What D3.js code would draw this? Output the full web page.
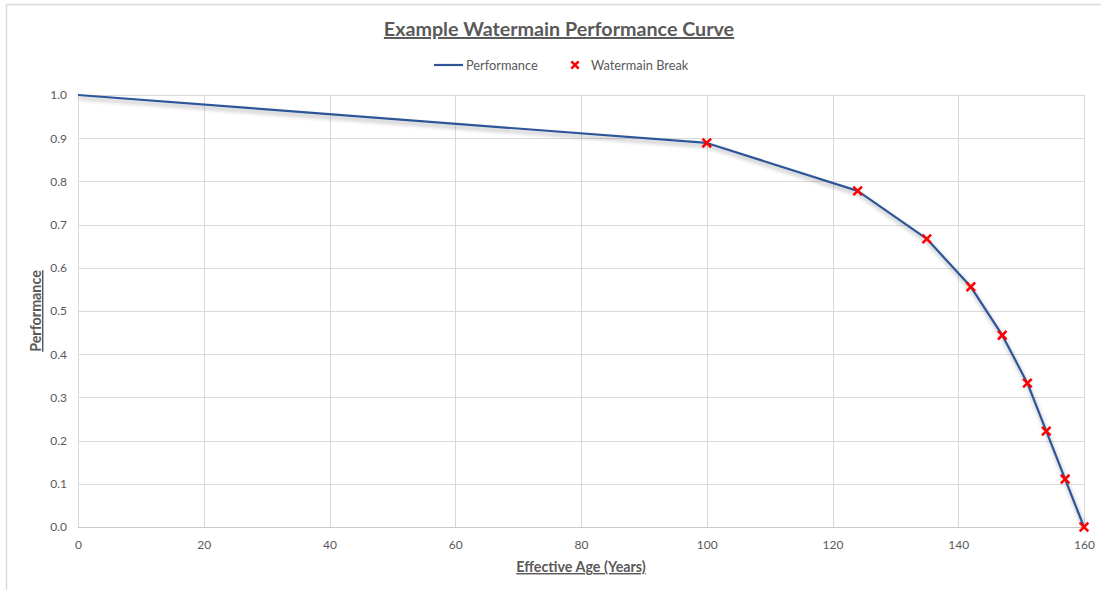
<!DOCTYPE html>
<html>
<head>
<meta charset="utf-8">
<script src="https://cdn.jsdelivr.net/npm/d3@7"></script>
<style>
  html, body { margin: 0; padding: 0; background: #fff; }
  svg { display: block; }
  text { font-family: Lato, "Open Sans", sans-serif; }
</style>
</head>
<body>
<svg id="chart" width="1101" height="590"></svg>
<script>
// Effective age (years) and the performance at each point of the curve
const ages = [0, 100, 124, 135, 142, 147, 151, 154, 157, 160];
const performance = [1.0, 0.889, 0.778, 0.667, 0.556, 0.444, 0.333, 0.222, 0.111, 0.0];
// Points where a watermain break is recorded
const breakAges = [100, 124, 135, 142, 147, 151, 154, 157, 160];
const breakPerf = [0.889, 0.778, 0.667, 0.556, 0.444, 0.333, 0.222, 0.111, 0.0];
const xTicks = [0, 20, 40, 60, 80, 100, 120, 140, 160];
const yTicks = [0, 0.1, 0.2, 0.3, 0.4, 0.5, 0.6, 0.7, 0.8, 0.9, 1.0];

const svg = d3.select("#chart");
const grid = "#d9d9d9", textCol = "#595959";

// outer chart frame
svg.append("line").attr("x1", 6.5).attr("x2", 1101).attr("y1", 4.5).attr("y2", 4.5)
  .attr("stroke", grid).attr("stroke-width", 1.5);
svg.append("line").attr("x1", 6.5).attr("x2", 6.5).attr("y1", 4.5).attr("y2", 590)
  .attr("stroke", grid).attr("stroke-width", 1.5);

const x = d3.scaleLinear().domain([0, 160]).range([78, 1084]);
const y = d3.scaleLinear().domain([0, 1]).range([527, 95]);

// gridlines
svg.append("g").selectAll("line").data(yTicks).join("line")
  .attr("x1", x(0)).attr("x2", x(160))
  .attr("y1", d => Math.round(y(d)) + 0.5).attr("y2", d => Math.round(y(d)) + 0.5)
  .attr("stroke", grid).attr("stroke-width", 1);
svg.append("g").selectAll("line").data(xTicks).join("line")
  .attr("y1", y(0)).attr("y2", y(1))
  .attr("x1", d => Math.round(x(d)) + 0.5).attr("x2", d => Math.round(x(d)) + 0.5)
  .attr("stroke", grid).attr("stroke-width", 1);

// axes (labels only, lines drawn as grid)
const xAxis = svg.append("g").attr("transform", `translate(0,${y(0)})`)
  .call(d3.axisBottom(x).tickValues(xTicks).tickSize(0).tickPadding(13).tickFormat(d3.format("d")));
const yAxis = svg.append("g").attr("transform", `translate(${x(0)},0)`)
  .call(d3.axisLeft(y).tickValues(yTicks).tickSize(0).tickPadding(11).tickFormat(d3.format(".1f")));
[xAxis, yAxis].forEach(a => {
  a.select(".domain").remove();
  a.selectAll("text").attr("fill", textCol).style("font-size", "12px")
    .style("font-family", "Lato, 'Open Sans', sans-serif");
});
svg.append("line").attr("x1", x(0)).attr("x2", x(160)).attr("y1", y(0) + 0.5).attr("y2", y(0) + 0.5)
  .attr("stroke", "#c8c8c8");

// soft shadow under the curve
const defs = svg.append("defs");
const f = defs.append("filter").attr("id", "shadow").attr("x", "-5%").attr("y", "-5%")
  .attr("width", "110%").attr("height", "120%");
f.append("feGaussianBlur").attr("in", "SourceAlpha").attr("stdDeviation", 2).attr("result", "b");
f.append("feOffset").attr("in", "b").attr("dx", 1).attr("dy", 3).attr("result", "o");
f.append("feComponentTransfer").attr("in", "o").attr("result", "s")
  .append("feFuncA").attr("type", "linear").attr("slope", 0.35);
const m = f.append("feMerge");
m.append("feMergeNode").attr("in", "s");
m.append("feMergeNode").attr("in", "SourceGraphic");

const pts = ages.map((a, i) => [a, performance[i]]);
const line = d3.line().x(d => x(d[0])).y(d => y(d[1]));
svg.append("path").datum(pts).attr("d", line)
  .attr("fill", "none").attr("stroke", "#2f5597").attr("stroke-width", 2.2)
  .attr("stroke-linejoin", "round").attr("filter", "url(#shadow)");

// break markers
const cross = (g, s) => g.append("path")
  .attr("d", `M${-s},${-s}L${s},${s}M${-s},${s}L${s},${-s}`)
  .attr("stroke", "#ff0000").attr("stroke-width", 2.5).attr("fill", "none");
svg.append("g").selectAll("g").data(breakAges.map((a, i) => [a, breakPerf[i]])).join("g")
  .attr("transform", d => `translate(${x(d[0])},${y(d[1])})`)
  .each(function () { cross(d3.select(this), 4.3); });

// title
svg.append("text").attr("x", 559).attr("y", 36).attr("text-anchor", "middle")
  .attr("fill", textCol).style("font-size", "19.7px").style("font-weight", "bold")
  .style("text-decoration", "underline").text("Example Watermain Performance Curve");

// legend
svg.append("line").attr("x1", 434).attr("x2", 463).attr("y1", 65).attr("y2", 65)
  .attr("stroke", "#2f5597").attr("stroke-width", 2.2);
svg.append("text").attr("x", 466).attr("y", 69.5).attr("fill", textCol)
  .style("font-size", "12.8px").text("Performance");
cross(svg.append("g").attr("transform", "translate(575,65)"), 3.7);
svg.append("text").attr("x", 591).attr("y", 69.5).attr("fill", textCol)
  .style("font-size", "12.8px").text("Watermain Break");

// axis titles
svg.append("text").attr("x", 581).attr("y", 572).attr("text-anchor", "middle")
  .attr("fill", textCol).style("font-size", "14.3px").style("font-weight", "bold")
  .style("text-decoration", "underline").text("Effective Age (Years)");
svg.append("text").attr("transform", "translate(41,311) rotate(-90)").attr("text-anchor", "middle")
  .attr("fill", textCol).style("font-size", "14.3px").style("font-weight", "bold")
  .style("text-decoration", "underline").text("Performance");
</script>
</body>
</html>
